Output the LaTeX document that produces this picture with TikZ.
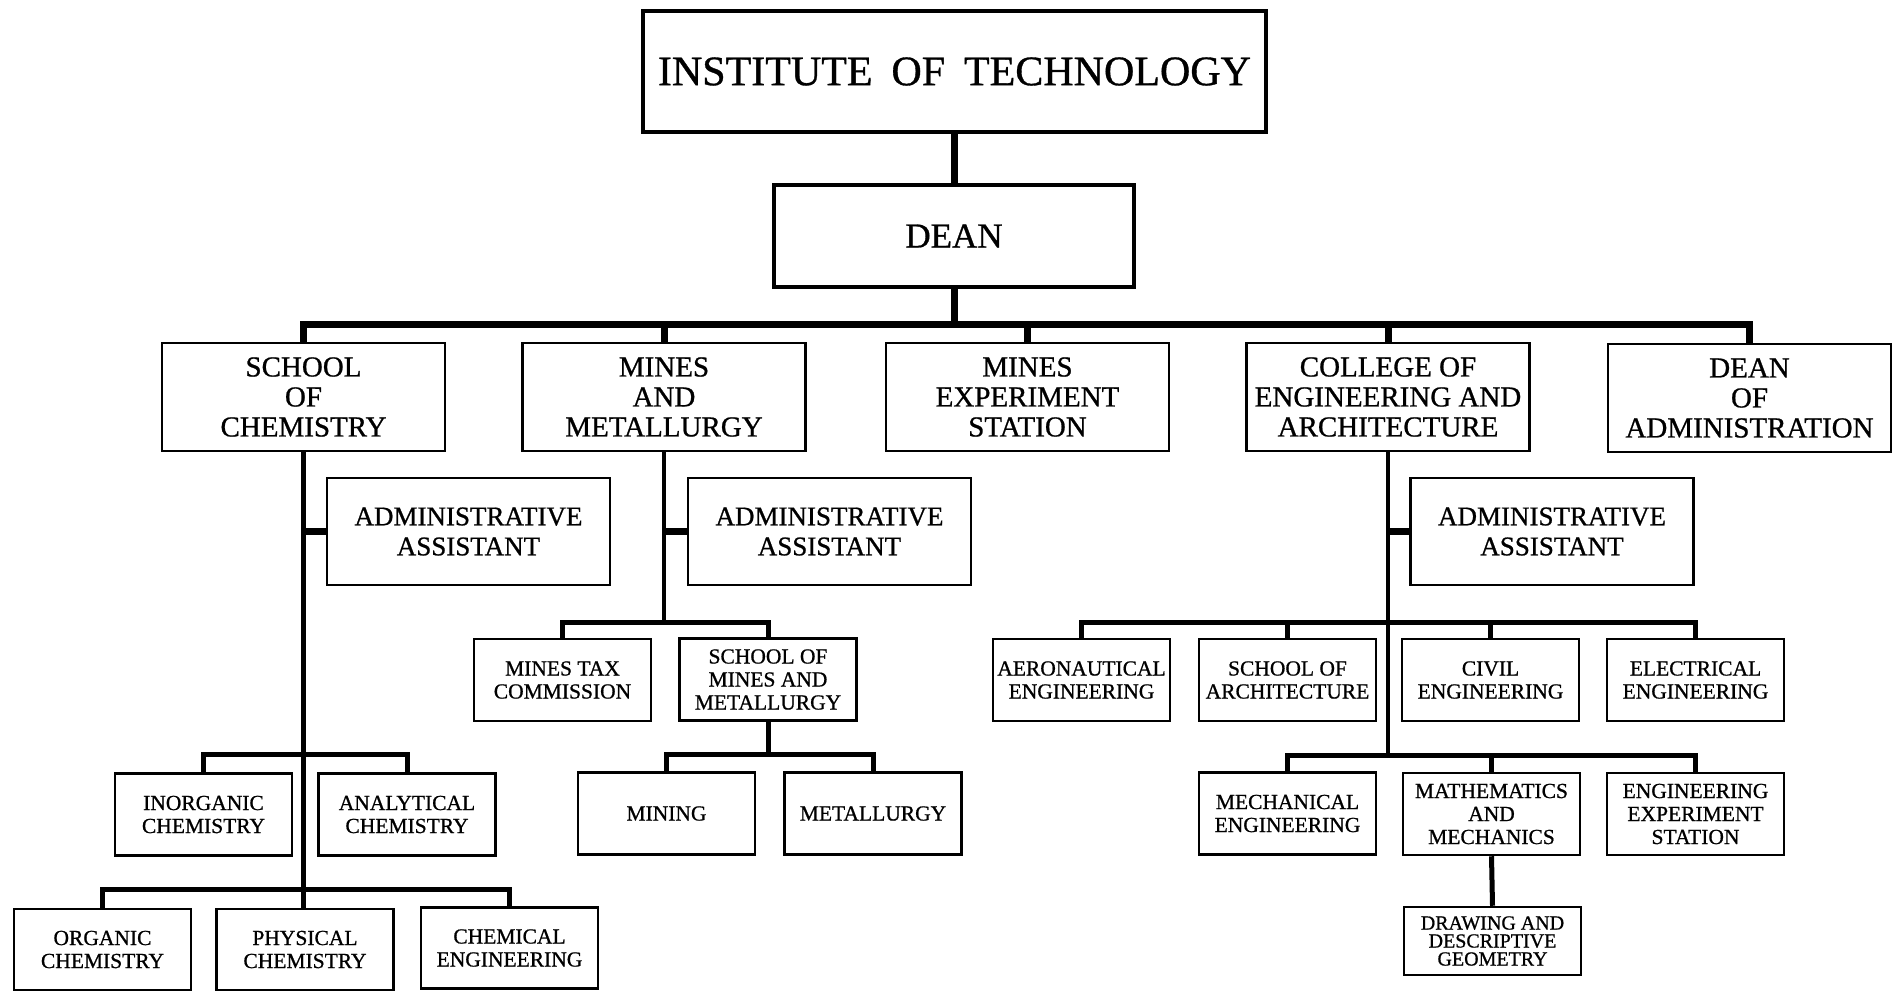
\documentclass[tikz,border=0pt]{standalone}
\usepackage{fontspec}
\setmainfont{Liberation Serif}[FakeBold=0.8]
\begin{document}
\begin{tikzpicture}[x=1pt,y=-1pt,
  box/.style={draw=black, line width=2.5pt, inner sep=0pt, align=center, text=black},
  topbox/.style={box, line width=4pt},
  lvltwo/.style={box, minimum width=283pt, minimum height=108pt, font=\fontsize{29}{30}\selectfont},
  adminbox/.style={box, minimum width=283pt, minimum height=107pt, font=\fontsize{27}{30}\selectfont},
  smallbox/.style={box, minimum width=177pt, minimum height=82pt, font=\fontsize{21.5}{23}\selectfont},
  tinybox/.style={box, minimum width=177pt, minimum height=68pt, font=\fontsize{20}{18}\selectfont},
  mainline/.style={line width=7pt},
  stubline/.style={line width=6.5pt},
  trunkline/.style={line width=4.5pt},
  subline/.style={line width=5pt}
]
\useasboundingbox (0,0) rectangle (1902,992);
\fill[white] (0,0) rectangle (1902,992);

% top
\node[topbox, minimum width=623pt, minimum height=121pt, font=\fontsize{42}{44}\selectfont] (inst) at (954.5,71.5) {INSTITUTE\hspace{0.45em}OF\hspace{0.45em}TECHNOLOGY};
\node[topbox, minimum width=360pt, minimum height=102pt, font=\fontsize{35}{36}\selectfont] (dean) at (954,236) {DEAN};

% level two
\node[lvltwo] (chem) at (303.5,397) {SCHOOL\\OF\\CHEMISTRY};
\node[lvltwo] (mines) at (664,397) {MINES\\AND\\METALLURGY};
\node[lvltwo] (mes) at (1027.5,397) {MINES\\EXPERIMENT\\STATION};
\node[lvltwo] (college) at (1388,397) {COLLEGE OF\\ENGINEERING AND\\ARCHITECTURE};
\node[lvltwo] (deanadm) at (1749.5,398) {DEAN\\OF\\ADMINISTRATION};

% administrative assistants
\node[adminbox] (adm1) at (468.5,531.5) {ADMINISTRATIVE\\ASSISTANT};
\node[adminbox] (adm2) at (829.5,531.5) {ADMINISTRATIVE\\ASSISTANT};
\node[adminbox] (adm3) at (1552,531.5) {ADMINISTRATIVE\\ASSISTANT};

% chemistry
\node[smallbox] (inorg) at (203.5,814.5) {INORGANIC\\CHEMISTRY};
\node[smallbox] (analyt) at (407,814.5) {ANALYTICAL\\CHEMISTRY};
\node[smallbox, minimum height=81pt] (organic) at (102.5,949.5) {ORGANIC\\CHEMISTRY};
\node[smallbox, minimum height=81pt] (phys) at (305,949.5) {PHYSICAL\\CHEMISTRY};
\node[smallbox, minimum height=81pt] (chemeng) at (509.5,948) {CHEMICAL\\ENGINEERING};

% mines
\node[smallbox] (mtc) at (562.5,680) {MINES TAX\\COMMISSION};
\node[smallbox] (smm) at (768,679.5) {SCHOOL OF\\MINES AND\\METALLURGY};
\node[smallbox] (mining) at (666.5,813.5) {MINING};
\node[smallbox] (metall) at (873,813.5) {METALLURGY};

% engineering
\node[smallbox] (aero) at (1081.5,680) {AERONAUTICAL\\ENGINEERING};
\node[smallbox] (arch) at (1287.5,680) {SCHOOL OF\\ARCHITECTURE};
\node[smallbox] (civil) at (1490.5,680) {CIVIL\\ENGINEERING};
\node[smallbox] (elec) at (1695.5,680) {ELECTRICAL\\ENGINEERING};
\node[smallbox] (mech) at (1287.5,813.5) {MECHANICAL\\ENGINEERING};
\node[smallbox] (math) at (1491.5,814) {MATHEMATICS\\AND\\MECHANICS};
\node[smallbox] (ees) at (1695.5,814) {ENGINEERING\\EXPERIMENT\\STATION};
\node[tinybox] (draw) at (1492.5,941) {DRAWING AND\\DESCRIPTIVE\\GEOMETRY};

% bus coordinates
\coordinate (mb) at (954,324);
\coordinate (mbus) at (664,622);
\coordinate (sb) at (768,754);
\coordinate (cb1) at (303.5,754);
\coordinate (cb2) at (303.5,889);
\coordinate (eb1) at (1388,622);
\coordinate (eb2) at (1388,755);

% main connectors
\draw[mainline] (inst.south) -- (inst.south |- dean.north);
\draw[mainline] (dean.south) -- (mb);
\foreach \n in {chem,mines,mes,college,deanadm}
  \draw[mainline] (\n.north) |- (mb);

% chemistry
\draw[trunkline] (chem.south) -- (chem.south |- phys.north);
\draw[stubline] (adm1.west) -- (adm1.west -| chem.south);
\draw[subline] (inorg.north) |- (cb1);
\draw[subline] (analyt.north) |- (cb1);
\draw[subline] (organic.north) |- (cb2);
\draw[subline] (chemeng.north) |- (cb2);

% mines
\draw[trunkline] (mines.south) -- (mbus);
\draw[stubline] (adm2.west) -- (adm2.west -| mines.south);
\draw[subline] (mtc.north) |- (mbus);
\draw[subline] (smm.north) |- (mbus);
\draw[subline] (smm.south) -- (sb);
\draw[subline] (mining.north) |- (sb);
\draw[subline] (metall.north) |- (sb);

% engineering
\draw[trunkline] (college.south) -- (eb2);
\draw[stubline] (adm3.west) -- (adm3.west -| college.south);
\foreach \n in {aero,arch,civil,elec}
  \draw[subline] (\n.north) |- (eb1);
\foreach \n in {mech,math,ees}
  \draw[subline] (\n.north) |- (eb2);
\draw[subline] (math.south) -- (draw.north);
\end{tikzpicture}
\end{document}
